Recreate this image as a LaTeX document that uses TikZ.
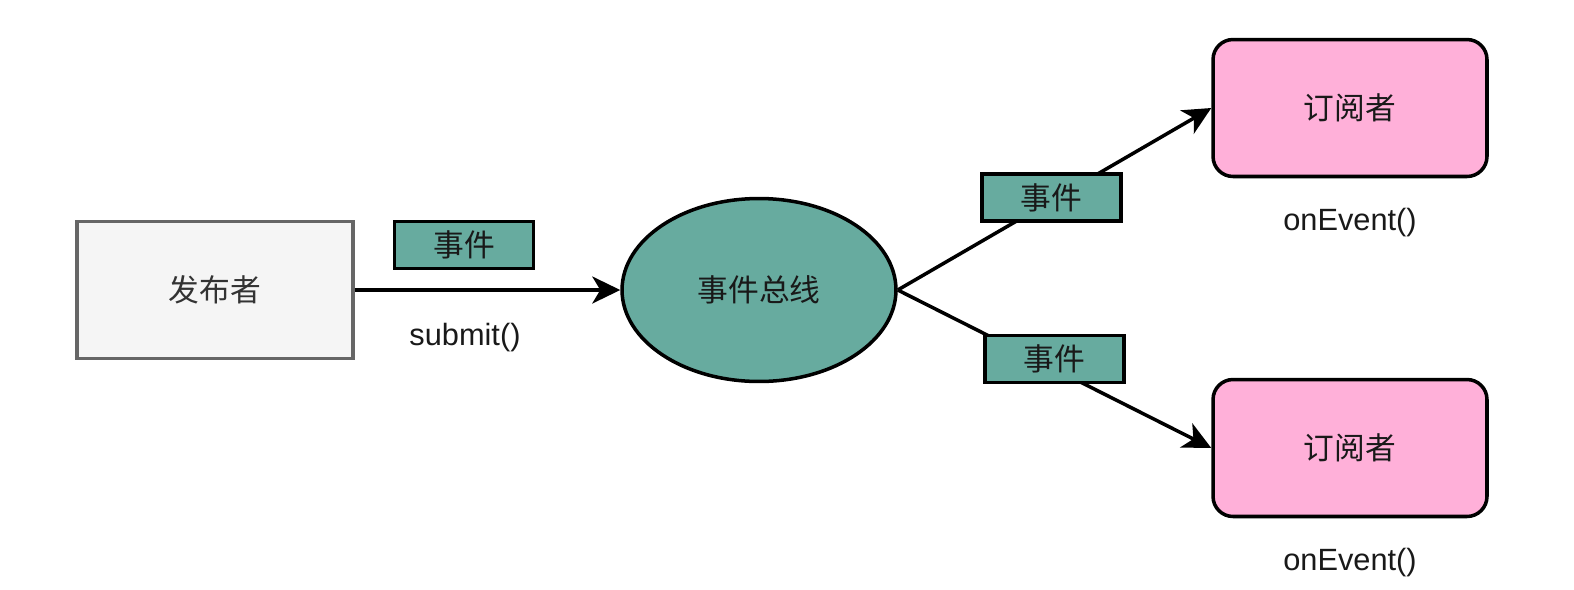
\documentclass[tikz,border=0pt]{standalone}
\usepackage{fontspec}
\setmainfont{Liberation Sans}
\newfontfamily\cjk{Noto Sans CJK SC}
\usetikzlibrary{arrows.meta,shapes.geometric}
\definecolor{busgreen}{HTML}{67AB9F}
\definecolor{subpink}{HTML}{FFB0D9}
\definecolor{pubfill}{HTML}{F5F5F5}
\definecolor{publine}{HTML}{666666}

\begin{document}
\begin{tikzpicture}[x=0.02cm, y=-0.02cm]
\def\fs{\fontsize{17.5}{21}\selectfont}  % common text size
\tikzset{
  pub/.style={draw=publine, fill=pubfill, line width=2pt, inner sep=0pt,
    minimum width=5.52cm, minimum height=2.74cm, text=black!80, font=\cjk\fs},
  evt/.style={draw=black, fill=busgreen, line width=2.2pt, inner sep=0pt,
    minimum width=2.78cm, minimum height=0.94cm, text=black!90, font=\cjk\fs},
  bus/.style={ellipse, draw=black, fill=busgreen, line width=2pt, inner sep=0pt,
    minimum width=5.48cm, minimum height=3.66cm, text=black!90, font=\cjk\fs},
  sub/.style={draw=black, fill=subpink, line width=2pt, rounded corners=0.4cm,
    inner sep=0pt, minimum width=5.48cm, minimum height=2.74cm, text=black!90,
    font=\cjk\fs},
  meth/.style={text=black!90, font=\fs},
  arr/.style={-{Stealth[length=5.6mm, width=5.4mm, inset=1.6mm]}, line width=2pt},
}
\useasboundingbox (0,0) rectangle (1574,589);

% ---- publisher side ----
\node[pub] (pub) at (215,290) {发布者};
\node[evt] (evtin) at (464,245) {事件};
\node[meth] (submit) at (465,338) {submit()};

% ---- event bus ----
\node[bus] (bus) at (759,290) {事件总线};

% ---- subscribers ----
\node[sub] (subA) at (1350,108) {订阅者};
\node[meth] (onA) at (1350,223) {onEvent()};
\node[sub] (subB) at (1350,448) {订阅者};
\node[meth] (onB) at (1350,563) {onEvent()};

% ---- connectors ----
\draw[arr] (pub.east) -- (bus.west);
\draw[arr] (bus.east) -- node[evt, pos=0.49, yshift=0.06cm] (evtA) {事件} (subA.west);
\draw[arr] (bus.east) -- node[evt, pos=0.5, yshift=0.2cm] (evtB) {事件} (subB.west);

\end{tikzpicture}
\end{document}
